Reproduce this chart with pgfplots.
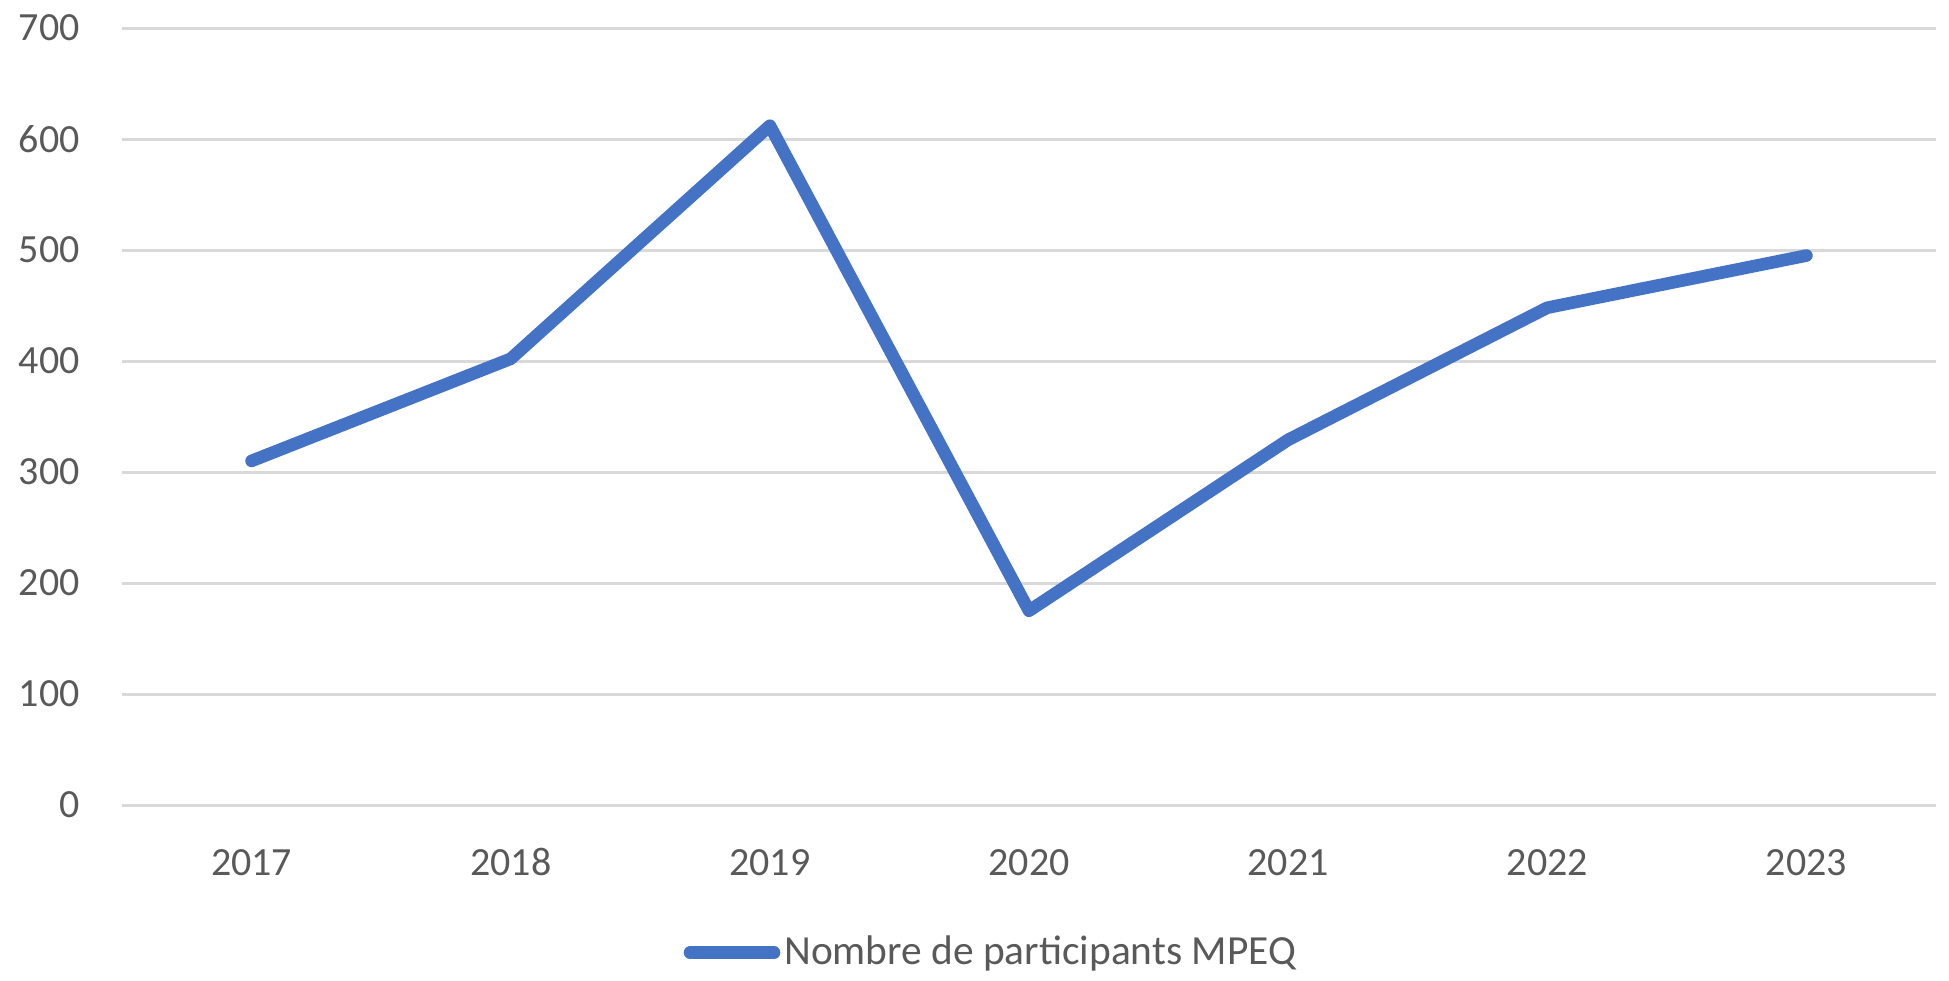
\documentclass[border=0pt]{standalone}
\usepackage{fontspec}
\setmainfont{Carlito}
\usepackage{pgfplots}
\pgfplotsset{compat=1.18}
\definecolor{linecol}{HTML}{4472C4}
\definecolor{gridcol}{HTML}{D9D9D9}
\definecolor{textcol}{HTML}{595959}
\begin{document}
\fontsize{20}{24}\selectfont
\begin{tikzpicture}
\begin{axis}[
  at={(0,0)}, anchor=south west,
  scale only axis,
  width=907pt, height=388.5pt,
  xmin=-0.5, xmax=6.5,
  ymin=0, ymax=700,
  ytick={0,100,...,700},
  xtick={0,1,2,3,4,5,6},
  xticklabels={2017,2018,2019,2020,2021,2022,2023},
  axis line style={draw=none},
  tick style={draw=none},
  ymajorgrids,
  grid style={gridcol, line width=1.5pt},
  /pgf/number format/assume math mode=true,
  ticklabel style={font=\fontsize{20}{24}\selectfont, text=textcol, inner sep=0pt},
  yticklabel style={anchor=east, xshift=-21pt},
  xticklabel style={anchor=base, yshift=-35.25pt},
  legend style={draw=none, at={(axis description cs:0.4795,-0.19)}, anchor=center,
    font=\fontsize{20.7}{24}\selectfont, text=textcol, inner sep=0pt,
    /tikz/every even column/.append style={column sep=0pt}},
  legend cell align=left,
  legend image code/.code={\draw[#1, line cap=round] (0pt,0pt) -- (42pt,0pt);},
]
\addplot[linecol, line width=6.3pt, line cap=round, line join=round] coordinates {
  (0,310) (1,402) (2,612) (3,175) (4,329) (5,448) (6,495)
};
\addlegendentry{Nombre de participants MPEQ}
\end{axis}
\pgfresetboundingbox
\path[use as bounding box] (-61pt,-87.5pt) rectangle (913.5pt,402.5pt);
\end{tikzpicture}
\end{document}
